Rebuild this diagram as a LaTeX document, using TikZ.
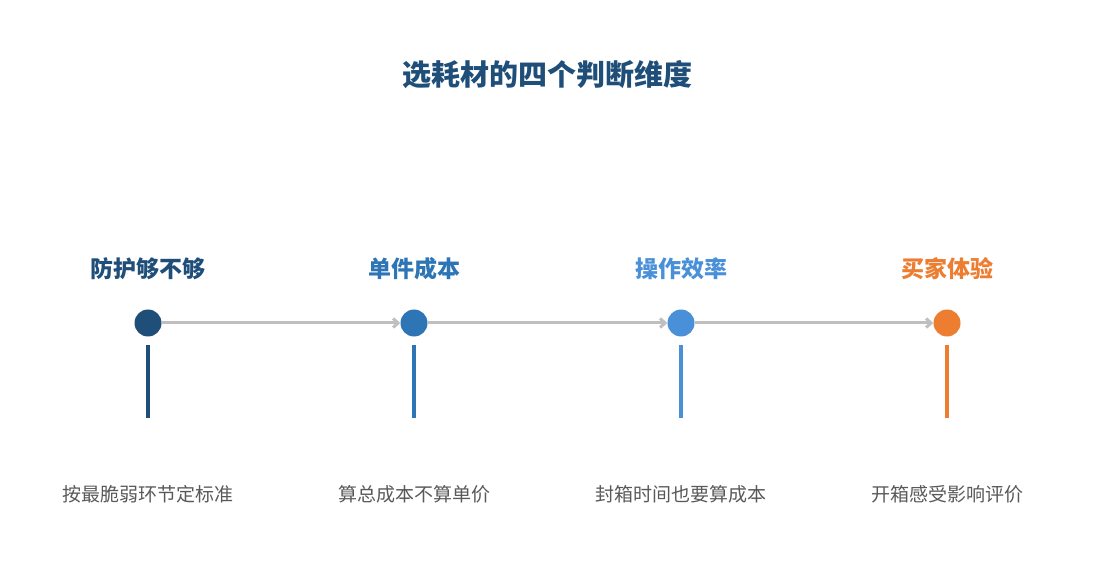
\documentclass[tikz,border=0pt]{standalone}
\usepackage{fontspec}
\newfontfamily\cjk{Noto Sans CJK SC}
\usetikzlibrary{arrows.meta}
\definecolor{darkblue}{HTML}{1F4E79}
\definecolor{midblue}{HTML}{2E75B6}
\definecolor{lightblue}{HTML}{4A90D9}
\definecolor{orangec}{HTML}{ED7D31}
\definecolor{linegray}{HTML}{BFBFBF}
\definecolor{textgray}{HTML}{595959}
\begin{document}
\begin{tikzpicture}[x=1pt,y=-1pt]
        \tikzstyle{every node}=[inner sep=0pt]
        \tikzstyle{dot}=[circle, minimum size=27pt]
        \tikzstyle{head}=[font=\cjk\bfseries\fontsize{23}{26}\selectfont]
        \tikzstyle{desc}=[font=\cjk\fontsize{19}{23}\selectfont, text=textgray]
        \tikzstyle{stem}=[line width=4pt]
        \tikzstyle{link}=[line width=3pt, linegray, -{Straight Barb[length=5pt,width=9pt]}]
        \useasboundingbox (0,0) rectangle (1095,585);
        \node[font=\cjk\bfseries\fontsize{29}{34}\selectfont, text=darkblue] (title) at (547,75) {选耗材的四个判断维度};
        \node[dot] (d1) at (148,323) {};
        \node[dot] (d2) at (414,323) {};
        \node[dot] (d3) at (681,323) {};
        \node[dot] (d4) at (947,323) {};
        \draw[link] (d1.east) -- (d2.west);
        \draw[link] (d2.east) -- (d3.west);
        \draw[link] (d3.east) -- (d4.west);
        \fill[darkblue] (d1) circle (13.5);
        \fill[midblue] (d2) circle (13.5);
        \fill[lightblue] (d3) circle (13.5);
        \fill[orangec] (d4) circle (13.5);
        \node[head, text=darkblue] (h1) at (148,269) {防护够不够};
        \node[head, text=midblue] (h2) at (414,269) {单件成本};
        \node[head, text=lightblue] (h3) at (681,269) {操作效率};
        \node[head, text=orangec] (h4) at (947,269) {买家体验};
        \coordinate (s1) at (148,345); \coordinate (e1) at (148,418);
        \coordinate (s2) at (414,345); \coordinate (e2) at (414,418);
        \coordinate (s3) at (681,345); \coordinate (e3) at (681,418);
        \coordinate (s4) at (947,345); \coordinate (e4) at (947,418);
        \draw[stem, darkblue] (s1) -- (e1);
        \draw[stem, midblue] (s2) -- (e2);
        \draw[stem, lightblue] (s3) -- (e3);
        \draw[stem, orangec] (s4) -- (e4);
        \node[desc] (t1) at (148,494) {按最脆弱环节定标准};
        \node[desc] (t2) at (414,494) {算总成本不算单价};
        \node[desc] (t3) at (681,494) {封箱时间也要算成本};
        \node[desc] (t4) at (947,494) {开箱感受影响评价};
    \end{tikzpicture}
\end{document}
